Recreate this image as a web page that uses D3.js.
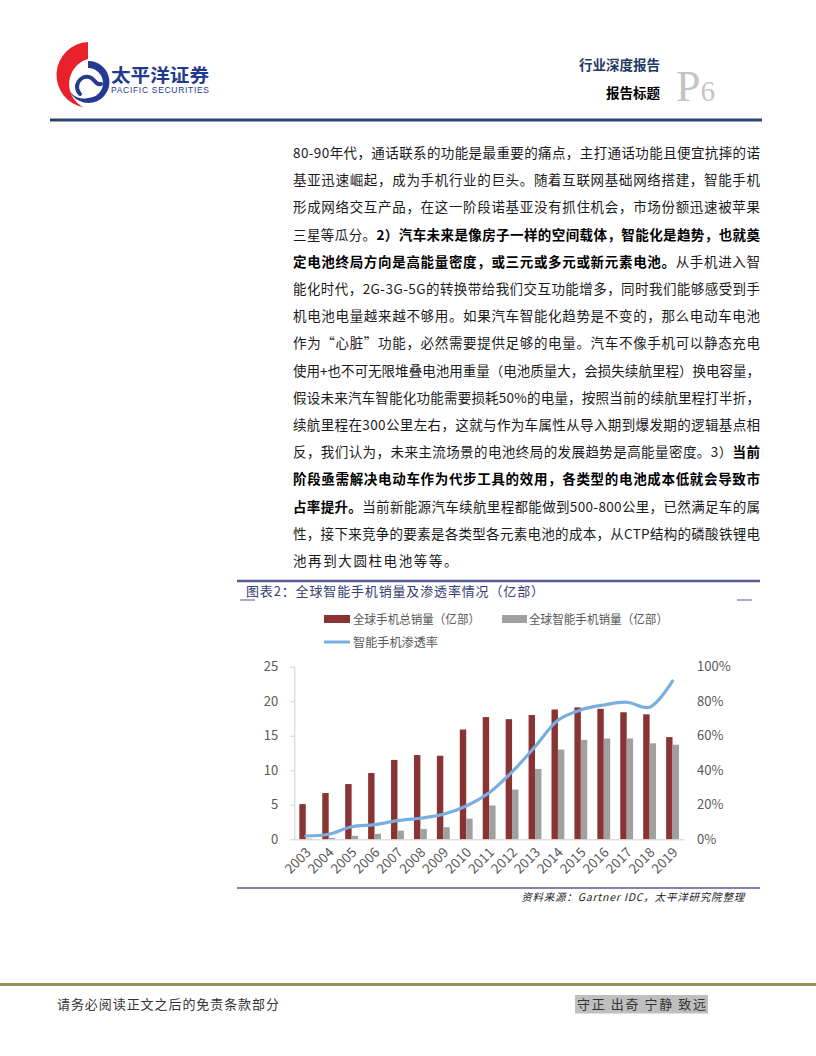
<!DOCTYPE html>
<html><head><meta charset="utf-8">
<script src="https://cdn.jsdelivr.net/npm/d3@7/dist/d3.min.js"></script>
<style>
html,body{margin:0;padding:0;background:#fff;}
svg{display:block;}
</style></head>
<body>
<svg id="page" width="816" height="1056"></svg>
<script>
// ---------- chart data ----------
const years = ['2003','2004','2005','2006','2007','2008','2009','2010','2011','2012','2013','2014','2015','2016','2017','2018','2019'];
const totalSales = [5.1, 6.7, 8.0, 9.6, 11.5, 12.2, 12.1, 15.9, 17.7, 17.4, 18.0, 18.8, 19.1, 18.9, 18.4, 18.1, 14.8];
const smartSales = [0.1, 0.2, 0.5, 0.8, 1.25, 1.5, 1.75, 3.0, 4.9, 7.2, 10.2, 13.0, 14.4, 14.6, 14.6, 13.9, 13.7];
const penetration = [0.019, 0.029, 0.073, 0.085, 0.108, 0.122, 0.145, 0.193, 0.27, 0.39, 0.536, 0.69, 0.75, 0.778, 0.794, 0.765, 0.917];
const leftTicks = [0, 5, 10, 15, 20, 25];
const rightTicks = [0, 0.2, 0.4, 0.6, 0.8, 1.0];
const seriesNames = ['全球手机总销量（亿部）', '全球智能手机销量（亿部）', '智能手机渗透率'];
const chartTitle = '图表2：全球智能手机销量及渗透率情况（亿部）';
const sourceNote = '资料来源：Gartner IDC，太平洋研究院整理';

// ---------- body text ----------
const bodyLines = [
  [['80-90年代，通话联系的功能是最重要的痛点，主打通话功能且便宜抗摔的诺',0]],
  [['基亚迅速崛起，成为手机行业的巨头。随着互联网基础网络搭建，智能手机',0]],
  [['形成网络交互产品，在这一阶段诺基亚没有抓住机会，市场份额迅速被苹果',0]],
  [['三星等瓜分。',0],['2）汽车未来是像房子一样的空间载体，智能化是趋势，也就奠',1]],
  [['定电池终局方向是高能量密度，或三元或多元或新元素电池。',1],['从手机进入智',0]],
  [['能化时代，2G-3G-5G的转换带给我们交互功能增多，同时我们能够感受到手',0]],
  [['机电池电量越来越不够用。如果汽车智能化趋势是不变的，那么电动车电池',0]],
  [['作为“心脏”功能，必然需要提供足够的电量。汽车不像手机可以静态充电',0]],
  [['使用+也不可无限堆叠电池用重量（电池质量大，会损失续航里程）换电容量，',0]],
  [['假设未来汽车智能化功能需要损耗50%的电量，按照当前的续航里程打半折，',0]],
  [['续航里程在300公里左右，这就与作为车属性从导入期到爆发期的逻辑基点相',0]],
  [['反，我们认为，未来主流场景的电池终局的发展趋势是高能量密度。3）',0],['当前',1]],
  [['阶段亟需解决电动车作为代步工具的效用，各类型的电池成本低就会导致市',1]],
  [['占率提升。',1],['当前新能源汽车续航里程都能做到500-800公里，已然满足车的属',0]],
  [['性，接下来竞争的要素是各类型各元素电池的成本，从CTP结构的磷酸铁锂电',0]],
  [['池再到大圆柱电池等等。',0]]
];

const svg = d3.select('#page');
const CJK = '"Noto Sans CJK SC","Noto Sans",sans-serif';

// ---------- header ----------
const logo = svg.append('g');
logo.append('path')
  .attr('d','M88,42 A33,33 0 0 0 84,107.5 A26,26 0 0 1 88,59 Z')
  .attr('fill','#e8212b');
logo.append('path')
  .attr('d','M88,61 A21,21 0 1 1 69,90 A17,17 0 0 0 88,98 A15,15 0 0 0 88,68 Z')
  .attr('fill','#263a91');
logo.append('path')
  .attr('d','M80,94 C73,86 80,75 89,77 C95,78 95,86 101,84')
  .attr('fill','none').attr('stroke','#263a91').attr('stroke-width',4).attr('stroke-linecap','round');
svg.append('text').attr('x',111).attr('y',82)
  .attr('font-family',CJK).attr('font-weight',700).attr('font-size',18)
  .attr('fill','#1f3a8f').attr('textLength',98).attr('lengthAdjust','spacingAndGlyphs')
  .text('太平洋证券');
svg.append('text').attr('x',111).attr('y',93)
  .attr('font-family','"Liberation Sans",Arial,sans-serif').attr('font-size',8.5)
  .attr('fill','#1f3a8f').attr('textLength',98).attr('lengthAdjust','spacing')
  .text('PACIFIC SECURITIES');

svg.append('text').attr('x',660).attr('y',70).attr('text-anchor','end')
  .attr('font-family',CJK).attr('font-weight',700).attr('font-size',13.5).attr('fill','#1f3864')
  .text('行业深度报告');
svg.append('text').attr('x',660).attr('y',98).attr('text-anchor','end')
  .attr('font-family',CJK).attr('font-weight',700).attr('font-size',13.5).attr('fill','#000')
  .text('报告标题');
const pg = svg.append('text').attr('x',676).attr('y',101)
  .attr('font-family','"Liberation Serif","Times New Roman",serif').attr('fill','#c4c4c4');
pg.append('tspan').attr('font-size',44).text('P');
pg.append('tspan').attr('font-size',29).text('6');

svg.append('line').attr('x1',50).attr('x2',762).attr('y1',120).attr('y2',120)
  .attr('stroke','#2b4470').attr('stroke-width',3);

// ---------- body text ----------
const textG = svg.append('g');
bodyLines.forEach((segs, i) => {
  const t = textG.append('text')
    .attr('x', 293).attr('y', 158 + i * 27.2)
    .attr('font-family', CJK).attr('font-size', 13.5).attr('fill', '#1a1a1a');
  if (i < bodyLines.length - 1) t.attr('textLength', 467).attr('lengthAdjust', 'spacing');
  else t.attr('letter-spacing', 1.6);
  segs.forEach(([s, b]) => {
    t.append('tspan').attr('font-weight', b ? 700 : 400).attr('fill', b ? '#000' : '#1a1a1a').text(s);
  });
});

// ---------- chart frame ----------
const frameColor = '#5b5a96';
svg.append('line').attr('x1',237).attr('x2',760).attr('y1',581).attr('y2',581)
  .attr('stroke',frameColor).attr('stroke-width',2.5);
svg.append('text').attr('x',246).attr('y',596)
  .attr('font-family',CJK).attr('font-size',13).attr('fill','#34406e')
  .attr('textLength',298).attr('lengthAdjust','spacing')
  .text(chartTitle);
svg.append('line').attr('x1',240).attr('x2',255).attr('y1',600).attr('y2',600)
  .attr('stroke',frameColor).attr('stroke-width',1);
svg.append('line').attr('x1',737).attr('x2',752).attr('y1',600).attr('y2',600)
  .attr('stroke',frameColor).attr('stroke-width',1);
svg.append('line').attr('x1',237).attr('x2',760).attr('y1',888).attr('y2',888)
  .attr('stroke',frameColor).attr('stroke-width',1.5);
svg.append('text').attr('x',745).attr('y',901).attr('text-anchor','end')
  .attr('font-family',CJK).attr('font-size',10.5).attr('font-style','italic').attr('fill','#222')
  .attr('letter-spacing',0.8)
  .text(sourceNote);

// ---------- chart ----------
const colors = ['#8b3232', '#a0a0a0', '#7aaee0'];
const plot = {left: 294.3, right: 684, top: 666.7, bottom: 839.3};

const x = d3.scaleBand().domain(years).range([plot.left, plot.right])
  .paddingInner(0.44).paddingOuter(0.22);
const x1 = d3.scaleBand().domain(['total','smart']).range([0, x.bandwidth()]);
const yL = d3.scaleLinear().domain([0, 25]).range([plot.bottom, plot.top]);
const yR = d3.scaleLinear().domain([0, 1]).range([plot.bottom, plot.top]);

const chart = svg.append('g');

chart.append('g').selectAll('rect.total').data(years).join('rect')
  .attr('x', d => x(d) + x1('total')).attr('width', x1.bandwidth())
  .attr('y', (d, i) => yL(totalSales[i])).attr('height', (d, i) => yL(0) - yL(totalSales[i]))
  .attr('fill', colors[0]);
chart.append('g').selectAll('rect.smart').data(years).join('rect')
  .attr('x', d => x(d) + x1('smart')).attr('width', x1.bandwidth())
  .attr('y', (d, i) => yL(smartSales[i])).attr('height', (d, i) => yL(0) - yL(smartSales[i]))
  .attr('fill', colors[1]);

const axL = chart.append('g').attr('transform', `translate(${plot.left},0)`)
  .call(d3.axisLeft(yL).tickValues(leftTicks).tickSize(4).tickSizeOuter(0).tickPadding(12));
axL.select('.domain').attr('stroke', '#d0d0d0');
axL.selectAll('.tick line').attr('stroke', '#d0d0d0');
axL.selectAll('.tick text').attr('font-family', CJK).attr('font-size', 13).attr('fill', '#595959');

const axR = chart.append('g').attr('transform', `translate(${plot.right},0)`)
  .call(d3.axisRight(yR).tickValues(rightTicks).tickFormat(d3.format('.0%')).tickSize(0).tickPadding(13));
axR.select('.domain').remove();
axR.selectAll('.tick text').attr('font-family', CJK).attr('font-size', 13).attr('fill', '#595959');

const axB = chart.append('g').attr('transform', `translate(0,${plot.bottom})`)
  .call(d3.axisBottom(x).tickSize(0).tickSizeOuter(0).tickPadding(0));
axB.select('.domain').attr('stroke', '#d0d0d0');
axB.selectAll('.tick text')
  .attr('font-family', CJK).attr('font-size', 13.5).attr('fill', '#595959')
  .attr('text-anchor', 'end')
  .attr('dy', 0)
  .attr('transform', 'translate(6,14) rotate(-45)');

const line = d3.line()
  .x((d, i) => x(years[i]) + x.bandwidth() / 2)
  .y(d => yR(d))
  .curve(d3.curveCatmullRom.alpha(0.5));
chart.append('path').datum(penetration).attr('d', line)
  .attr('fill', 'none').attr('stroke', colors[2]).attr('stroke-width', 3.2)
  .attr('stroke-linejoin', 'round').attr('stroke-linecap', 'round');

// legend
const lg = chart.append('g').attr('font-family', CJK).attr('font-size', 12.5).attr('fill', '#595959');
lg.append('rect').attr('x', 324).attr('y', 615).attr('width', 26).attr('height', 8).attr('fill', colors[0]);
lg.append('text').attr('x', 353).attr('y', 624).attr('textLength', 127).attr('lengthAdjust', 'spacingAndGlyphs').text(seriesNames[0]);
lg.append('rect').attr('x', 502).attr('y', 615).attr('width', 25).attr('height', 8).attr('fill', colors[1]);
lg.append('text').attr('x', 529).attr('y', 624).attr('textLength', 139).attr('lengthAdjust', 'spacingAndGlyphs').text(seriesNames[1]);
lg.append('line').attr('x1', 324).attr('x2', 350).attr('y1', 642).attr('y2', 642)
  .attr('stroke', colors[2]).attr('stroke-width', 3);
lg.append('text').attr('x', 353).attr('y', 647).attr('textLength', 85).attr('lengthAdjust', 'spacingAndGlyphs').text(seriesNames[2]);

// ---------- footer ----------
svg.append('line').attr('x1',0).attr('x2',816).attr('y1',984.5).attr('y2',984.5)
  .attr('stroke','#9b8f5c').attr('stroke-width',3);
svg.append('text').attr('x',57).attr('y',1009)
  .attr('font-family',CJK).attr('font-size',13).attr('fill','#333').attr('textLength',222)
  .attr('lengthAdjust','spacing')
  .text('请务必阅读正文之后的免责条款部分');
svg.append('rect').attr('x',575).attr('y',995).attr('width',133).attr('height',18.5).attr('fill','#bfbfbf');
svg.append('text').attr('x',577).attr('y',1009)
  .attr('font-family',CJK).attr('font-size',13).attr('fill','#333').attr('textLength',129)
  .attr('lengthAdjust','spacing')
  .text('守正 出奇 宁静 致远');
</script>
</body></html>
